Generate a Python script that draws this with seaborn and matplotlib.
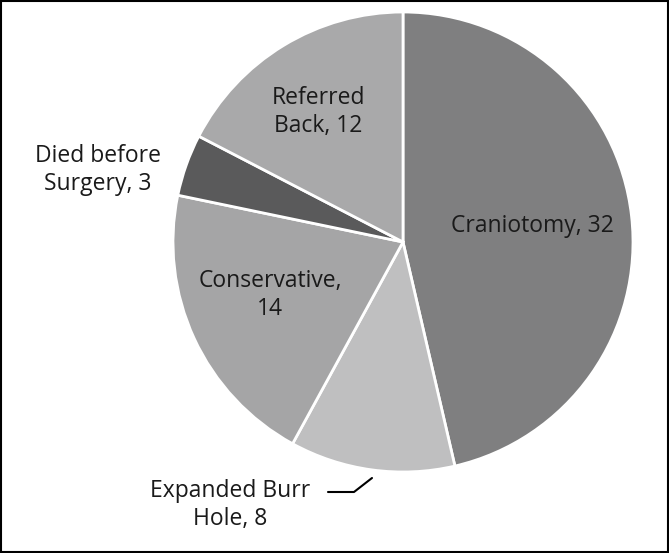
import matplotlib
matplotlib.use("Agg")
import matplotlib.pyplot as plt
import seaborn as sns

categories = ["Craniotomy", "Expanded Burr\nHole", "Conservative,\n", "Died before\nSurgery", "Referred\nBack"]
values = [32, 8, 14, 3, 12]
slice_colors = ["#7f7f80", "#bfbfc0", "#a5a5a6", "#5a5a5b", "#a9a9aa"]

sns.set_theme(style="white")
plt.rcParams["font.family"] = ["Open Sans", "DejaVu Sans"]

fig = plt.figure(figsize=(6.69, 5.53), dpi=100)
ax = fig.add_axes([0, 0, 1, 1])

cx, cy, r = 403, 311, 230
ax.pie(values, colors=slice_colors, startangle=90, counterclock=False,
       center=(cx, cy), radius=r, frame=True,
       wedgeprops=dict(edgecolor="white", linewidth=2))
ax.set_xlim(0, 669)
ax.set_ylim(0, 553)
ax.set_aspect("equal")
ax.axis("off")

fs = 16.5
kw = dict(ha="center", va="center", fontsize=fs, color="#1a1a1a", linespacing=1.25)
ax.text(532, 327, f"Craniotomy, {values[0]}", **kw)
ax.text(230, 48, f"Expanded Burr\nHole, {values[1]}", **kw)
ax.text(270, 258, f"Conservative,\n{values[2]}", **kw)
ax.text(98, 383, f"Died before\nSurgery, {values[3]}", **kw)
ax.text(318, 441, f"Referred\nBack, {values[4]}", **kw)
ax.plot([328, 354, 372], [61, 61, 75], color="black", linewidth=1.5)

fig.patches.append(plt.Rectangle((0.001, 0.001), 0.997, 0.997, transform=fig.transFigure,
                                 fill=False, edgecolor="black", linewidth=1.5))
fig.savefig("out.png", dpi=100)
